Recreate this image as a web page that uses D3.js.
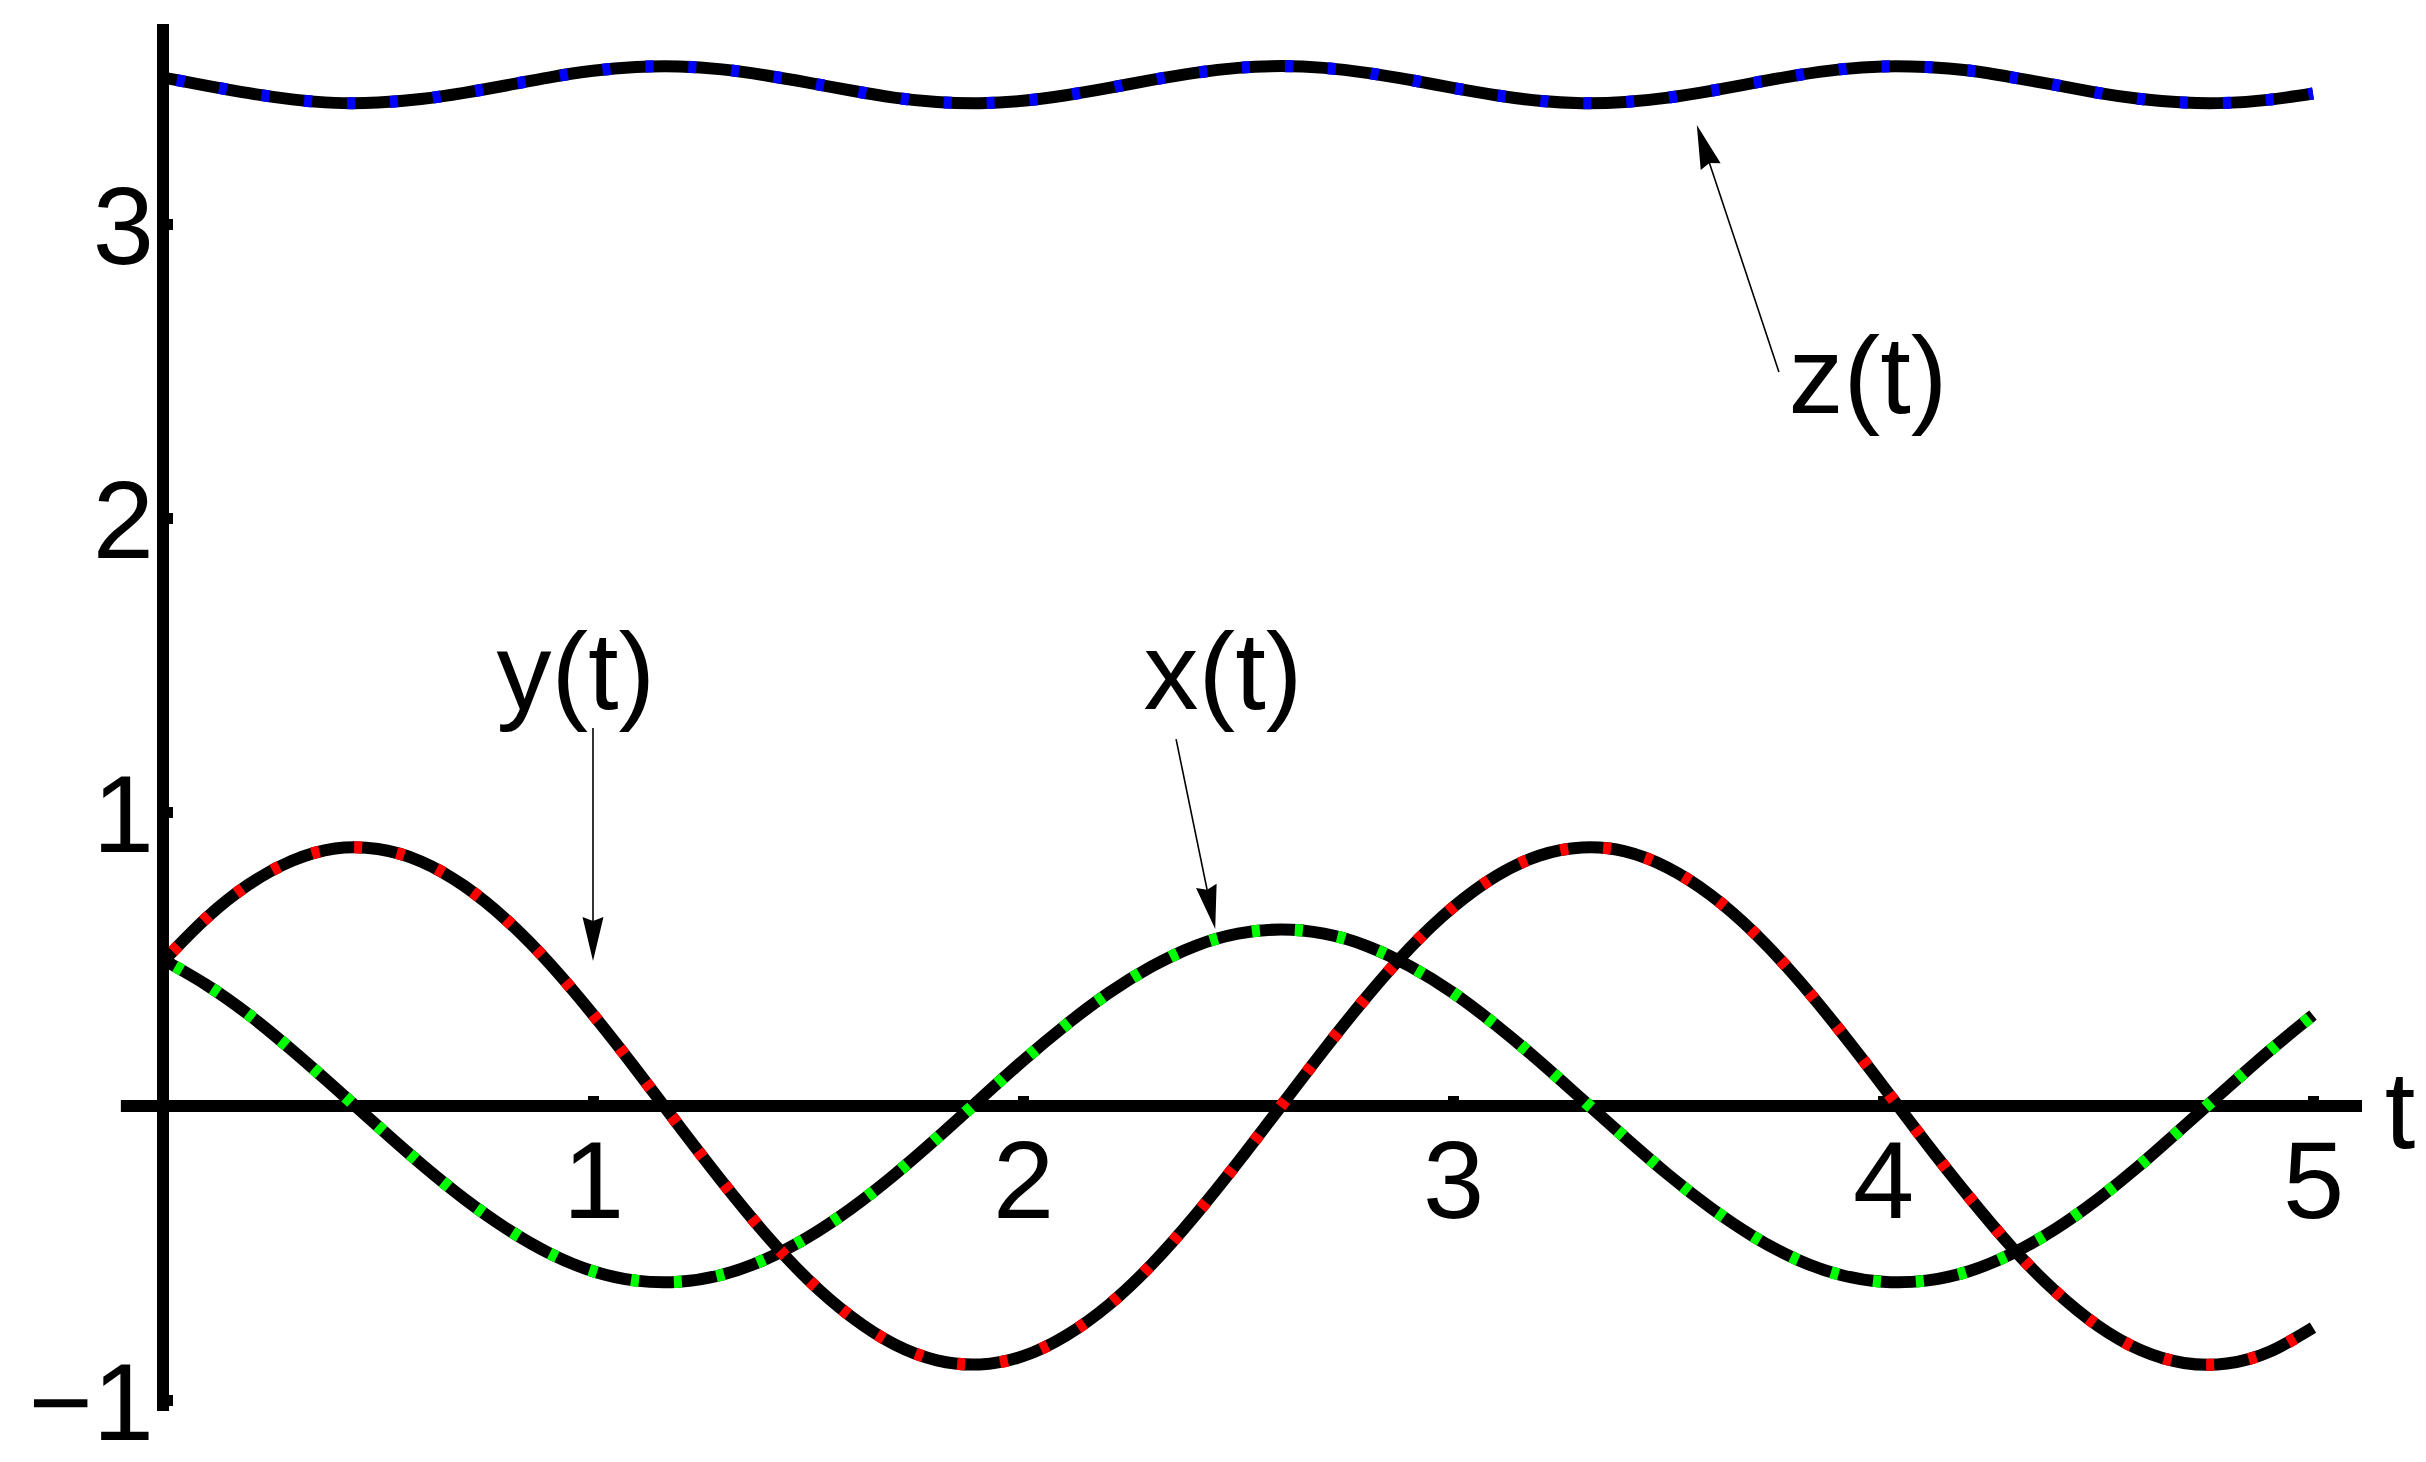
<!DOCTYPE html>
<html><head><meta charset="utf-8">
<script src="https://cdn.jsdelivr.net/npm/d3@7"></script>
<style>html,body{margin:0;padding:0;background:#fff;overflow:hidden;}</style>
</head><body>
<svg id="chart" width="2426" height="1462"></svg>
<script>
// ---- data ----
const tValues = [0.0,0.1,0.2,0.3,0.4,0.5,0.6,0.7,0.8,0.9,1.0,1.1,1.2,1.3,1.4,1.5,1.6,1.7,1.8,1.9,2.0,2.1,2.2,2.3,2.4,2.5,2.6,2.7,2.8,2.9,3.0,3.1,3.2,3.3,3.4,3.5,3.6,3.7,3.8,3.9,4.0,4.1,4.2,4.3,4.4,4.5,4.6,4.7,4.8,4.9,5.0];
const xValues = [0.498,0.413,0.310,0.190,0.062,-0.069,-0.197,-0.315,-0.418,-0.502,-0.562,-0.594,-0.598,-0.574,-0.522,-0.446,-0.349,-0.235,-0.109,0.023,0.154,0.276,0.385,0.475,0.544,0.586,0.600,0.586,0.544,0.475,0.385,0.275,0.153,0.023,-0.107,-0.233,-0.347,-0.445,-0.522,-0.574,-0.598,-0.594,-0.562,-0.502,-0.419,-0.316,-0.198,-0.069,0.061,0.189,0.309];
const yValues = [0.491,0.638,0.754,0.834,0.876,0.874,0.832,0.749,0.631,0.483,0.311,0.125,-0.068,-0.257,-0.434,-0.590,-0.716,-0.810,-0.865,-0.879,-0.851,-0.781,-0.676,-0.538,-0.373,-0.191,0.000,0.191,0.373,0.538,0.676,0.782,0.851,0.879,0.866,0.810,0.717,0.590,0.434,0.257,0.068,-0.125,-0.309,-0.481,-0.629,-0.748,-0.831,-0.874,-0.876,-0.835,-0.754];
const zValues = [3.498,3.471,3.445,3.424,3.412,3.413,3.425,3.446,3.472,3.499,3.521,3.534,3.536,3.526,3.506,3.481,3.454,3.430,3.415,3.411,3.419,3.438,3.463,3.490,3.514,3.531,3.537,3.531,3.514,3.490,3.463,3.438,3.419,3.411,3.415,3.430,3.453,3.480,3.506,3.526,3.536,3.534,3.522,3.499,3.473,3.446,3.425,3.413,3.412,3.423,3.444];
const xTicks = [1,2,3,4,5];
const yTicks = [-1,1,2,3];
const seriesNames = ["z(t)","x(t)","y(t)"];
const seriesColors = ["#0000ff","#00ff00","#ff0000"];
const axisLabel = "t";

// ---- layout ----
const W = 2426, H = 1462;
const FONT = "'Liberation Sans', Arial, Helvetica, sans-serif";
const svg = d3.select("#chart");
svg.append("rect").attr("width", W).attr("height", H).attr("fill", "#fff");

const x = d3.scaleLinear().domain([0, 5]).range([163, 2313]);
const y = d3.scaleLinear().domain([-1, 3]).range([1400, 224]);
const fmt = d3.format("d");

// axis lines (extend a bit beyond the data range)
svg.append("line")
  .attr("x1", x(-0.098)).attr("x2", x(5.114))
  .attr("y1", y(0)).attr("y2", y(0))
  .attr("stroke", "#000").attr("stroke-width", 12);
svg.append("line")
  .attr("x1", x(0)).attr("x2", x(0))
  .attr("y1", y(-1.037)).attr("y2", y(3.68))
  .attr("stroke", "#000").attr("stroke-width", 12);

// ticks + labels
const gx = svg.append("g").attr("transform", `translate(0,${y(0)})`)
  .call(d3.axisBottom(x).tickValues(xTicks).tickFormat(fmt).tickSize(-10).tickPadding(34));
gx.select(".domain").remove();
gx.selectAll(".tick line").attr("stroke", "#000").attr("stroke-width", 11);
gx.selectAll(".tick text").attr("font-family", FONT).attr("font-size", 110).attr("fill", "#000");

const gy = svg.append("g").attr("transform", `translate(${x(0)},0)`)
  .call(d3.axisLeft(y).tickValues(yTicks).tickFormat(fmt).tickSize(-10).tickPadding(9));
gy.select(".domain").remove();
gy.selectAll(".tick line").attr("stroke", "#000").attr("stroke-width", 11);
gy.selectAll(".tick text").attr("font-family", FONT).attr("font-size", 110).attr("fill", "#000").attr("dy", "0.36em");

svg.append("text").attr("x", x(5.167)).attr("y", y(0) + 42)
  .attr("font-family", FONT).attr("font-size", 110).attr("fill", "#000").text(axisLabel);

// curves
const series = [zValues, xValues, yValues];
const line = d3.line().x((d, i) => x(tValues[i])).y(d => y(d)).curve(d3.curveNatural);
series.forEach((vals, k) => {
  const g = svg.append("g").attr("class", "series").attr("data-name", seriesNames[k]);
  g.append("path").attr("d", line(vals)).attr("fill", "none")
    .attr("stroke", "#000").attr("stroke-width", 12).attr("stroke-linecap", "butt").attr("stroke-linejoin", "round");
  g.append("path").attr("d", line(vals)).attr("fill", "none")
    .attr("stroke", seriesColors[k]).attr("stroke-width", 12).attr("stroke-linecap", "butt")
    .attr("stroke-dasharray", "8 35").attr("stroke-dashoffset", 29);
});

// annotations (data coordinates)
const notes = [
  { text: "y(t)", label: [0.960, 1.350], tail: [1.000, 1.286], tip: [1.000, 0.493] },
  { text: "x(t)", label: [2.465, 1.350], tail: [2.356, 1.248], tip: [2.447, 0.602] },
  { text: "z(t)", label: [3.965, 2.357], tail: [3.758, 2.497], tip: [3.567, 3.337] }
];
notes.forEach(n => {
  const p0 = [x(n.tail[0]), y(n.tail[1])], p1 = [x(n.tip[0]), y(n.tip[1])];
  const dx = p1[0] - p0[0], dy = p1[1] - p0[1], L = Math.hypot(dx, dy);
  const ux = dx / L, uy = dy / L, px = -uy, py = ux;
  const hl = 44, hw = 10.5, notch = 40;
  const bx = p1[0] - ux * hl, by = p1[1] - uy * hl;
  const nx = p1[0] - ux * notch, ny = p1[1] - uy * notch;
  svg.append("line").attr("x1", p0[0]).attr("y1", p0[1]).attr("x2", nx).attr("y2", ny)
    .attr("stroke", "#000").attr("stroke-width", 1.6);
  svg.append("polygon")
    .attr("points", [[p1[0], p1[1]], [bx + px * hw, by + py * hw], [nx, ny], [bx - px * hw, by - py * hw]].map(p => p.join(",")).join(" "))
    .attr("fill", "#000");
  svg.append("text").attr("x", x(n.label[0])).attr("y", y(n.label[1]))
    .attr("text-anchor", "middle").attr("font-family", FONT).attr("font-size", 110).attr("fill", "#000")
    .text(n.text);
});
</script>
</body></html>
